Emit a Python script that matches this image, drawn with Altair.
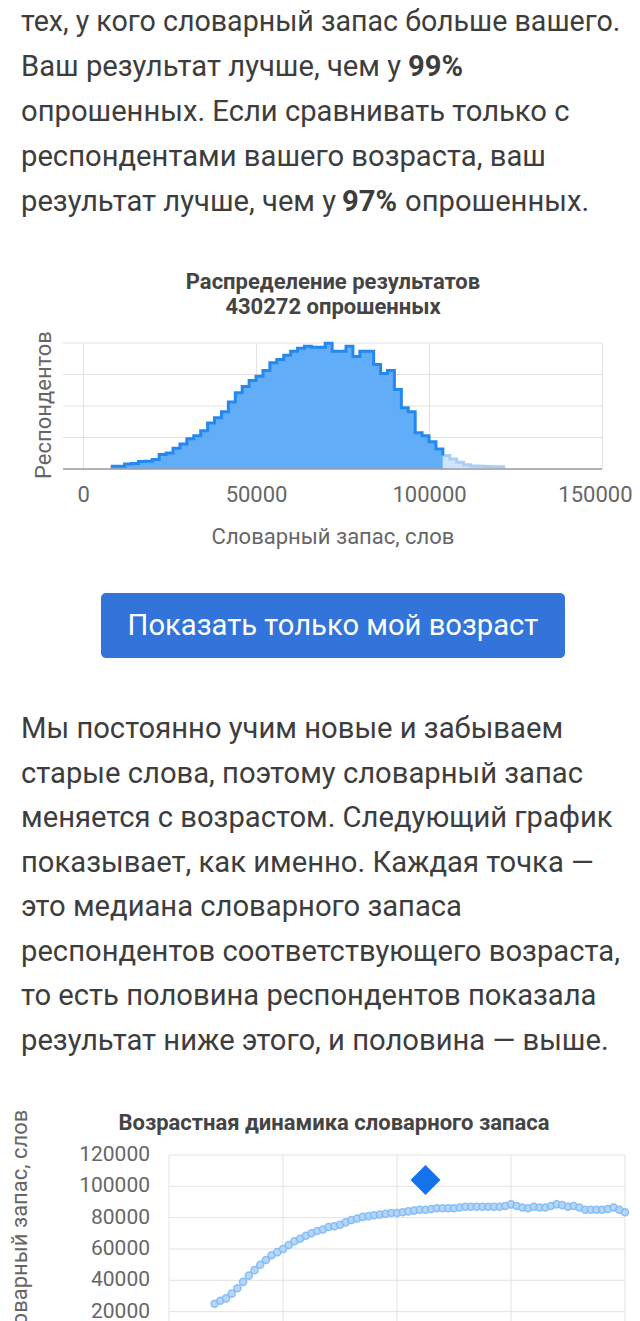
import altair as alt
import pandas as pd

FONT = "Roboto"
TEXT_COLOR = "#3d3d3d"
TITLE_COLOR = "#444444"
AXIS_COLOR = "#666666"
GRID = "#e2e2e2"

# ---------------- text content ----------------
para1_first = ["тех, у кого словарный запас больше вашего."]
para1_lines = [
    "Ваш результат лучше, чем у",
    "опрошенных. Если сравнивать только с",
    "респондентами вашего возраста, ваш",
    "результат лучше, чем у",
]
bold_a = ["99%"]
bold_b = ["97%"]
tail_b = ["опрошенных."]

hist_title = ["Распределение результатов", "430272 опрошенных"]
hist_ytitle = ["Респондентов"]
hist_xtitle = "Словарный запас, слов"
hist_ticks = [0, 50000, 100000, 150000]

button_label = ["Показать только мой возраст"]

para2_lines = [
    "Мы постоянно учим новые и забываем",
    "старые слова, поэтому словарный запас",
    "меняется с возрастом. Следующий график",
    "показывает, как именно. Каждая точка —",
    "это медиана словарного запаса",
    "респондентов соответствующего возраста,",
    "то есть половина респондентов показала",
    "результат ниже этого, и половина — выше.",
]

age_title = ["Возрастная динамика словарного запаса"]
age_ytitle = ["Словарный запас, слов"]
age_ytick_values = [20000, 40000, 60000, 80000, 100000, 120000]
age_ytick_labels = ["20000", "40000", "60000", "80000", "100000", "120000"]
age_grid_values = [0, 20000, 40000, 60000, 80000, 100000, 120000]
age_vgrid = [0, 20, 40, 60, 80]

# ---------------- histogram data ----------------
dark_bins = [8000, 10000, 12000, 14000, 16000, 18000, 20000, 22000, 24000, 26000,
             28000, 30000, 32000, 34000, 36000, 38000, 40000, 42000, 44000, 46000,
             48000, 50000, 52000, 54000, 56000, 58000, 60000, 62000, 64000, 66000,
             68000, 70000, 72000, 74000, 76000, 78000, 80000, 82000, 84000, 86000,
             88000, 90000, 92000, 94000, 96000, 98000, 100000, 102000]
dark_counts = [360, 360, 640, 700, 960, 1000, 1210, 1850, 2040, 2640,
               3190, 3830, 4210, 4850, 5840, 6510, 7280, 8520, 9670, 10470,
               11240, 11790, 12510, 13500, 13920, 14430, 14940, 15320, 15580, 15450,
               15450, 15960, 14940, 14940, 15580, 14300, 14940, 14940, 13280, 12130,
               12510, 10090, 7790, 7280, 4600, 4210, 3450, 2550]
light_bins = [104000, 106000, 108000, 110000, 112000, 114000, 116000, 118000, 120000]
light_counts = [1700, 1280, 860, 550, 380, 340, 320, 300, 300]
bin_end = 122000
hist_grid = [0, 4000, 8000, 12000, 16000]
hist_x_domain = [-5800, 150000]

# ---------------- age dynamics data ----------------
ages = list(range(8, 81))
median_vocab = [
    25000, 27000, 28500, 31500, 35000, 39000, 43000, 46500, 50000, 53000,
    56000, 58000, 60000, 62500, 65000, 66500, 68500, 70000, 71500, 72500,
    74000, 74500, 75500, 77000, 78500, 79500, 80500, 81000, 81500, 82000,
    82500, 83000, 83000, 83500, 84000, 84500, 85000, 85000, 85500, 86000,
    86000, 86000, 86000, 86500, 87000, 87000, 87000, 87000, 87000, 87000,
    87000, 87500, 88500, 87500, 86500, 86000, 87000, 86500, 86500, 87500,
    88500, 88000, 87000, 87500, 86500, 85000, 85000, 85000, 85000, 85500,
    86500, 85000, 83500,
]
user_age = [45]
user_vocab = [104000]
age_x_domain = [0, 80]
age_y_domain = [0, 120000]

W = 624
BODY_SIZE = 29.2


# ---------------- panel 1: top paragraph ----------------
y1 = alt.Y("i:Q", scale=alt.Scale(domain=[0, 4], range=[12, 192]), axis=None)
body = dict(font=FONT, fontSize=BODY_SIZE, color=TEXT_COLOR, baseline="middle", align="left")
body_first = dict(body, fontSize=28.6)

p1_first = alt.Chart(pd.DataFrame({"i": [0], "t": para1_first})).mark_text(**body_first).encode(
    x=alt.value(13), y=y1, text="t:N")
p1_text = alt.Chart(pd.DataFrame({"i": [1, 2, 3, 4], "t": para1_lines})).mark_text(**body).encode(
    x=alt.value(13), y=y1, text="t:N")
p1_b1 = alt.Chart(pd.DataFrame({"i": [1], "t": bold_a})).mark_text(fontWeight="bold", **body).encode(
    x=alt.value(400), y=y1, text="t:N")
p1_b2 = alt.Chart(pd.DataFrame({"i": [4], "t": bold_b})).mark_text(fontWeight="bold", **body).encode(
    x=alt.value(334), y=y1, text="t:N")
p1_t2 = alt.Chart(pd.DataFrame({"i": [4], "t": tail_b})).mark_text(**body).encode(
    x=alt.value(397), y=y1, text="t:N")
ht = dict(font=FONT, fontSize=22, fontWeight="bold", color=TITLE_COLOR, baseline="middle", align="center")
p1_h = alt.Chart(pd.DataFrame({"i": [0, 1], "t": hist_title})).mark_text(**ht).encode(
    x=alt.value(325), y=alt.Y("i:Q", scale=alt.Scale(domain=[0, 1], range=[272, 297]), axis=None),
    text="t:N")
panel1 = alt.layer(p1_first, p1_text, p1_b1, p1_b2, p1_t2).properties(width=W, height=333)
panel1 = alt.layer(panel1, p1_h).resolve_scale(y="independent")

# ---------------- panel 2: histogram ----------------
dark_df = pd.DataFrame({"v": dark_bins + [light_bins[0]], "n": dark_counts + [light_counts[0]]})
light_df = pd.DataFrame({"v": light_bins + [bin_end], "n": light_counts + [light_counts[-1]]})
hgrid_df = pd.DataFrame({"n": hist_grid,
                         "v": [hist_x_domain[0]] * len(hist_grid),
                         "v2": [hist_x_domain[1]] * len(hist_grid)})

xh = alt.X("v:Q",
           scale=alt.Scale(domain=hist_x_domain, range=[55, 594], nice=False, zero=False),
           axis=alt.Axis(values=hist_ticks, format="d", grid=True, gridColor=GRID, domain=False,
                         ticks=False, labelFlush=False, labelOverlap=False,
                         labelAlign={"expr": "datum.value == 150000 ? 'right' : 'center'"},
                         labelOffset={"expr": "datum.value == 150000 ? 30 : 0"},
                         labelFont=FONT, labelFontSize=22, labelColor=AXIS_COLOR,
                         labelPadding=15, title=hist_xtitle, titleFont=FONT, titleFontSize=22,
                         titleFontWeight="normal", titleColor=AXIS_COLOR, titlePadding=21))
yh = alt.Y("n:Q", scale=alt.Scale(domain=[0, 16000], nice=False), axis=None)

hgrid = alt.Chart(hgrid_df).mark_rule(color=GRID, strokeWidth=1).encode(y=yh, x=xh, x2="v2:Q")
area_dark = alt.Chart(dark_df).mark_area(interpolate="step-after", color="#62adf8", opacity=1).encode(x=xh, y=yh)
area_light = alt.Chart(light_df).mark_area(interpolate="step-after", color="#cfe4fa", opacity=1).encode(x=xh, y=yh)
line_light = alt.Chart(light_df).mark_line(interpolate="step-after", color="#a9cff6", strokeWidth=3).encode(x=xh, y=yh)
line_dark = alt.Chart(dark_df).mark_line(interpolate="step-after", color="#2389f0", strokeWidth=3).encode(x=xh, y=yh)
hbase = alt.Chart(hgrid_df.iloc[:1]).mark_rule(color="#9e9e9e", strokeWidth=1.5).encode(y=yh, x=xh, x2="v2:Q")
hytitle = alt.Chart(pd.DataFrame({"t": hist_ytitle})).mark_text(
    font=FONT, fontSize=22, color=AXIS_COLOR, angle=270, align="center", baseline="middle").encode(
    x=alt.value(36), y=alt.value(62), text="t:N")
panel2 = alt.layer(hgrid, area_dark, area_light, line_light, line_dark, hbase, hytitle).properties(
    width=W, height=126)

# ---------------- panel 3: button + paragraph ----------------
btn_df = pd.DataFrame({"t": button_label})
btn = alt.Chart(btn_df).mark_rect(color="#3274d9", cornerRadius=5).encode(
    x=alt.value(93), x2=alt.value(557), y=alt.value(124), y2=alt.value(189))
btn_t = alt.Chart(btn_df).mark_text(font=FONT, fontSize=BODY_SIZE, color="white", align="center",
                                    baseline="middle").encode(
    x=alt.value(325), y=alt.value(157), text="t:N")
y3 = alt.Y("i:Q", scale=alt.Scale(domain=[0, 7], range=[260, 572]), axis=None)
p3_text = alt.Chart(pd.DataFrame({"i": list(range(len(para2_lines))), "t": para2_lines})).mark_text(
    **body).encode(x=alt.value(13), y=y3, text="t:N")
p3_h = alt.Chart(pd.DataFrame({"t": age_title})).mark_text(**ht).encode(
    x=alt.value(326), y=alt.value(654), text="t:N")
panel3 = alt.layer(btn, btn_t, p3_text, p3_h).properties(width=W, height=686)

# ---------------- panel 4: age dynamics ----------------
xa = alt.X("age:Q", scale=alt.Scale(domain=age_x_domain, range=[161, 617], nice=False, zero=False), axis=None)
ya = alt.Y("m:Q", scale=alt.Scale(domain=age_y_domain, nice=False), axis=None)

agh_df = pd.DataFrame({"m": age_grid_values,
                       "age": [age_x_domain[0]] * len(age_grid_values),
                       "age2": [age_x_domain[1]] * len(age_grid_values)})
agv_df = pd.DataFrame({"age": age_vgrid,
                       "m": [age_y_domain[0]] * len(age_vgrid),
                       "m2": [age_y_domain[1]] * len(age_vgrid)})
agrid_h = alt.Chart(agh_df).mark_rule(color=GRID, strokeWidth=1).encode(y=ya, x=xa, x2="age2:Q")
agrid_v = alt.Chart(agv_df).mark_rule(color=GRID, strokeWidth=1).encode(x=xa, y=ya, y2="m2:Q")
alabels = alt.Chart(pd.DataFrame({"m": age_ytick_values, "lab": age_ytick_labels})).mark_text(
    font=FONT, fontSize=21, color=AXIS_COLOR, align="right", baseline="middle").encode(
    x=alt.value(142), y=ya, text="lab:N")
aytitle = alt.Chart(pd.DataFrame({"t": age_ytitle})).mark_text(
    font=FONT, fontSize=22, color=AXIS_COLOR, angle=270, align="center", baseline="middle").encode(
    x=alt.value(12), y=alt.value(76), text="t:N")
pts = alt.Chart(pd.DataFrame({"age": ages, "m": median_vocab})).mark_point(
    filled=True, size=50, fill="#aed2f9", stroke="#7fb9f4", strokeWidth=1.5, opacity=0.9).encode(x=xa, y=ya)
user = alt.Chart(pd.DataFrame({"age": user_age, "m": user_vocab})).mark_point(
    shape="diamond", filled=True, size=900, color="#1473eb", opacity=1).encode(x=xa, y=ya)
panel4 = alt.layer(agrid_h, agrid_v, alabels, aytitle, pts, user).properties(width=W, height=188)

chart = alt.vconcat(panel1, panel2, panel3, panel4, spacing=0, bounds="flush").properties(
    padding=0
).configure(font=FONT, background="white").configure_view(stroke=None)

chart.save("out.html", embed_options={"renderer": "svg", "actions": False})
